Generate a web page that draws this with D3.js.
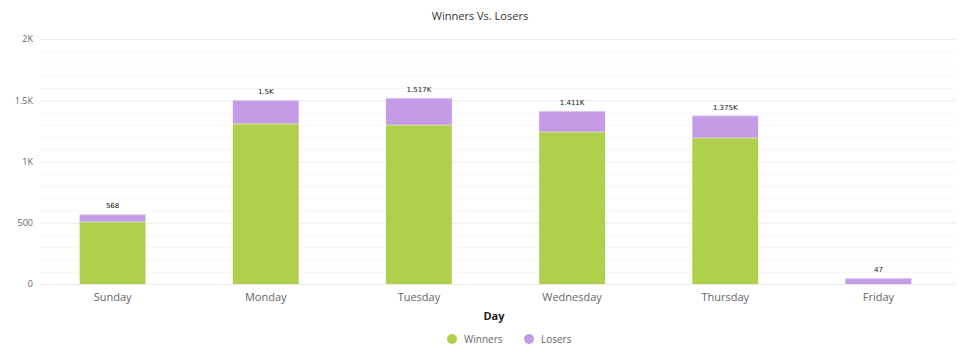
<!DOCTYPE html>
<html><head><meta charset="utf-8">
<script src="https://cdn.jsdelivr.net/npm/d3@7"></script>
<style>body{margin:0;background:#fff;font-family:"Open Sans","DejaVu Sans",sans-serif}</style>
</head><body><svg id="c" width="963" height="361"></svg>
<script>
const categories = ["Sunday","Monday","Tuesday","Wednesday","Thursday","Friday"];
const winners = [510, 1310, 1300, 1243, 1195, 0];
const losers = [58, 190, 217, 168, 180, 47];
const yTicks = [0, 500, 1000, 1500, 2000];
const yTickLabels = ["0", "500", "1K", "1.5K", "2K"];
const seriesNames = ["Winners", "Losers"];
const colors = ["#afcf4d", "#c39be6"];

const svg = d3.select("#c");
const m = {l: 36, r: 8, t: 39, b: 77};
const W = 963, H = 361;
const x = d3.scaleBand().domain(categories).range([m.l, W - m.r]).paddingInner(0.57).paddingOuter(0.285);
const y = d3.scaleLinear().domain([0, 2000]).range([H - m.b, m.t]);

// minor grid
const g = svg.append("g");
g.selectAll("line.minor").data(d3.range(0, 2001, 100)).join("line")
  .attr("x1", 40).attr("x2", 955).attr("y1", d => y(d) + 0.5).attr("y2", d => y(d) + 0.5)
  .attr("stroke", d => d % 500 === 0 ? "#ebebeb" : "#f6f6f6").attr("stroke-width", 1);

// y axis labels
const yAxis = d3.axisLeft(y).tickValues(yTicks).tickFormat((d, i) => yTickLabels[i]).tickSize(0).tickPadding(0);
const ya = svg.append("g").attr("transform", "translate(33,0)").call(yAxis);
ya.select(".domain").remove();
ya.selectAll("text").attr("fill", "#666").style("font-size", "9px").style("font-family", "Open Sans, DejaVu Sans, sans-serif");

// x axis
const xAxis = d3.axisBottom(x).tickSize(0).tickPadding(9);
const xa = svg.append("g").attr("transform", `translate(0,${y(0)})`).call(xAxis);
xa.select(".domain").remove();
xa.selectAll("text").attr("fill", "#666").style("font-size", "11px").style("font-family", "Open Sans, DejaVu Sans, sans-serif");

// stacked bars
const rows = categories.map((c, i) => ({cat: c, Winners: winners[i], Losers: losers[i]}));
const stack = d3.stack().keys(seriesNames)(rows);
stack.forEach((s, si) => {
  const sg = svg.append("g");
  s.forEach(d => {
    const h = y(d[0]) - y(d[1]);
    if (h <= 0) return;
    sg.append("rect").attr("x", x(d.data.cat)).attr("width", x.bandwidth())
      .attr("y", y(d[1])).attr("height", h).attr("fill", colors[si]);
    sg.append("line").attr("x1", x(d.data.cat)).attr("x2", x(d.data.cat) + x.bandwidth())
      .attr("y1", y(d[1]) + 0.5).attr("y2", y(d[1]) + 0.5)
      .attr("stroke", "#fff").attr("stroke-opacity", 0.7).attr("stroke-dasharray", "1,1");
  });
});

// totals
const fmt = v => v >= 1000 ? (v / 1000).toFixed(3).replace(/0+$/, "").replace(/\.$/, "") + "K" : String(v);
svg.append("g").selectAll("text").data(rows).join("text")
  .attr("x", d => x(d.cat) + x.bandwidth() / 2)
  .attr("y", d => y(d.Winners + d.Losers) - 6)
  .attr("text-anchor", "middle").style("font-size", "7px").attr("fill", "#111")
  .style("font-family", "DejaVu Sans, sans-serif")
  .text(d => fmt(d.Winners + d.Losers));

// title
svg.append("text").attr("x", 480).attr("y", 20).attr("text-anchor", "middle")
  .style("font-size", "11px").attr("fill", "#333").text("Winners Vs. Losers");

// x axis title
svg.append("text").attr("x", 494).attr("y", 320).attr("text-anchor", "middle")
  .style("font-size", "11px").style("font-weight", "bold").attr("fill", "#222").text("Day");

// legend
const lg = svg.append("g");
const lx = [452, 529];
seriesNames.forEach((n, i) => {
  lg.append("circle").attr("cx", lx[i]).attr("cy", 339).attr("r", 5).attr("fill", colors[i]);
  lg.append("text").attr("x", lx[i] + 12).attr("y", 343).style("font-size", "10px").attr("fill", "#666").text(n);
});
</script></body></html>
